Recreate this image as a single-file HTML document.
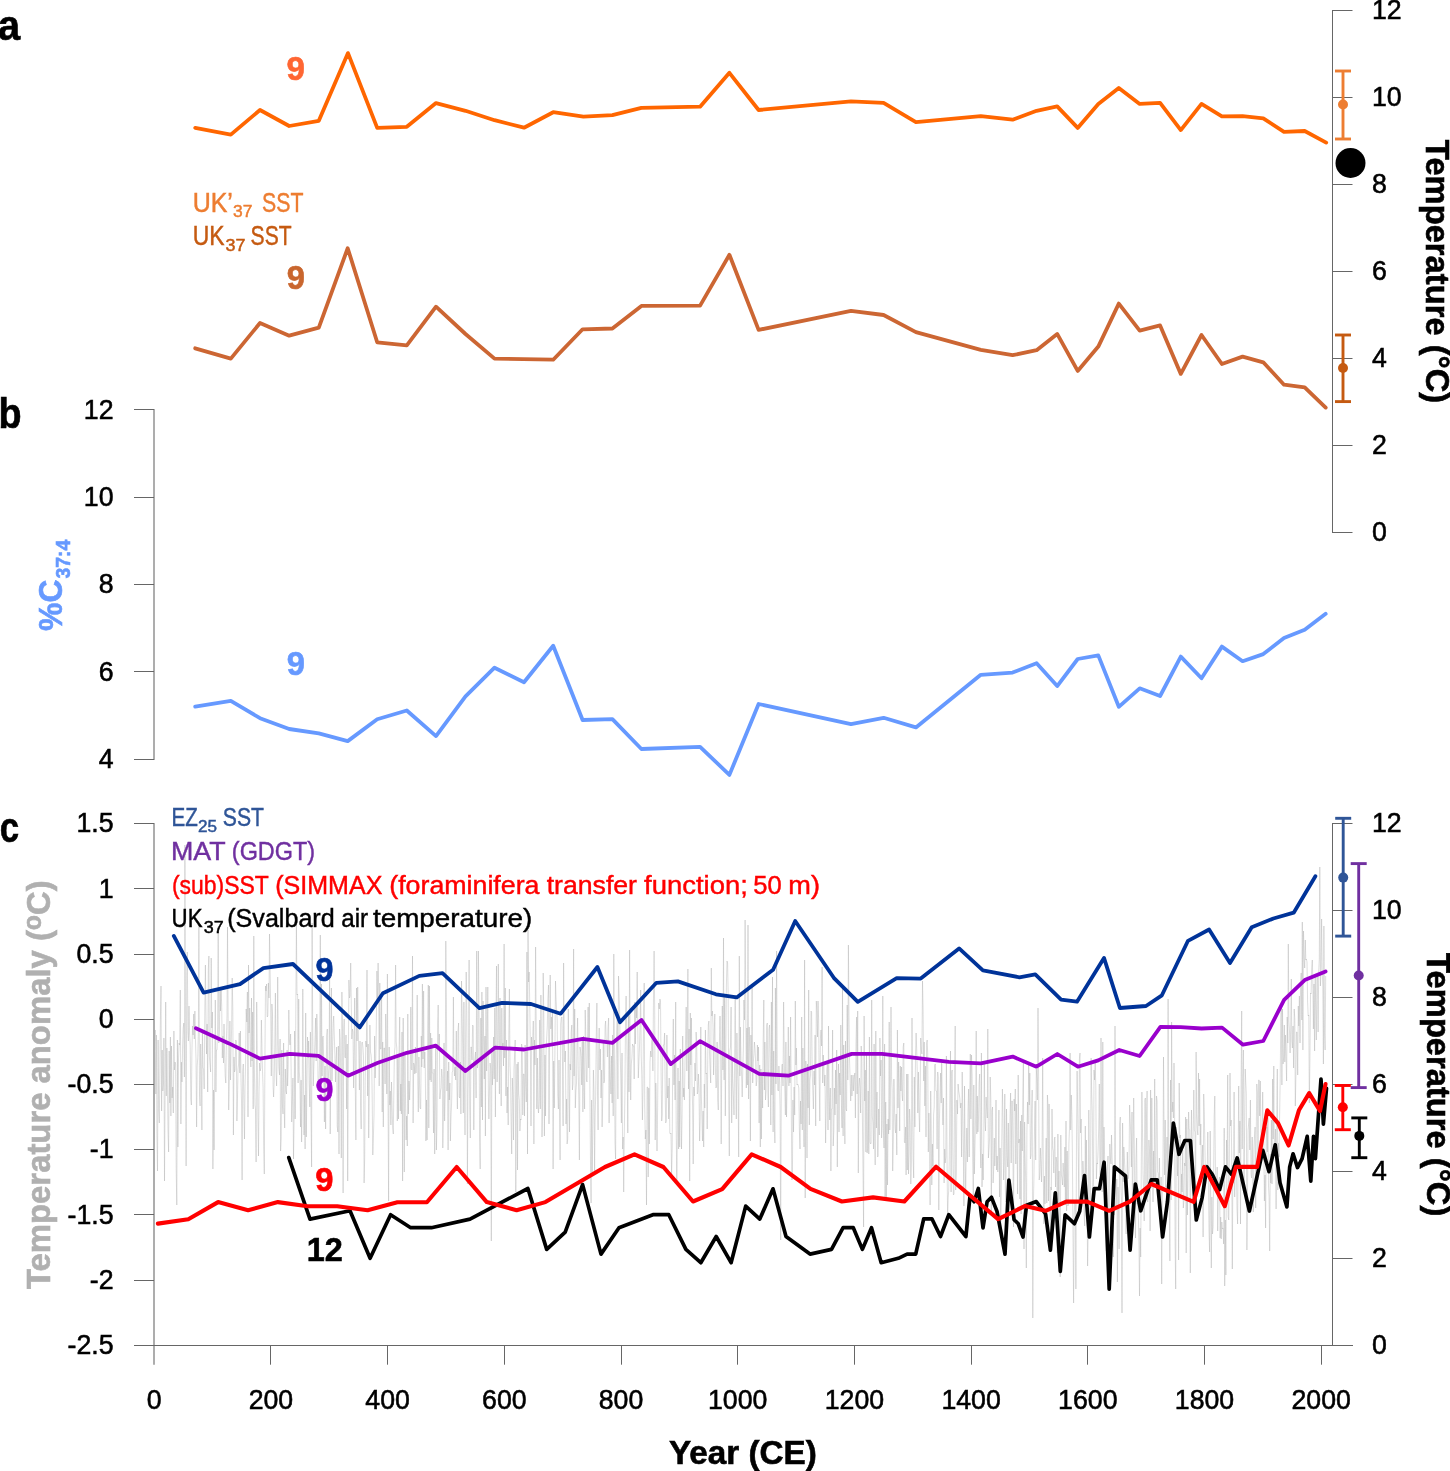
<!DOCTYPE html>
<html lang="en"><head><meta charset="utf-8"><title>Figure</title>
<style>
html,body{margin:0;padding:0;background:#fff;}
body{width:1450px;height:1471px;overflow:hidden;}
svg{display:block;}
text{font-family:"Liberation Sans",Arial,Helvetica,sans-serif;}
.b{font-weight:bold;}
.ln{fill:none;stroke-linejoin:round;stroke-linecap:round;}
</style></head><body>
<svg width="1450" height="1471" viewBox="0 0 1450 1471">
<rect width="1450" height="1471" fill="#fff"/>

<path d="M154.6,1050 L155.2,1030 L155.8,1094 L156.4,1035 L156.9,1133 L157.5,1171 L158.1,1040 L158.7,1110 L159.3,1123 L159.9,1067 L160.4,1019 L161.0,986 L161.6,1111 L162.2,1050 L162.8,1091 L163.4,1084 L163.9,1038 L164.5,1181 L165.1,1093 L165.7,1002 L166.3,1096 L166.9,1048 L167.4,1082 L168.0,1131 L168.6,1152 L169.2,1051 L169.8,1103 L170.4,1037 L170.9,1116 L171.5,1046 L172.1,1098 L172.7,1087 L173.3,1113 L173.9,1031 L174.4,1070 L175.0,1062 L175.6,1064 L176.2,1170 L176.8,1205 L177.4,1040 L177.9,1147 L178.5,1059 L179.1,1043 L179.7,1045 L180.3,990 L180.9,1124 L181.4,1062 L182.0,1082 L182.6,1047 L183.2,1028 L183.8,1023 L184.4,1077 L184.9,845 L185.5,1001 L186.1,1166 L186.7,977 L187.3,952 L187.9,1033 L188.4,1041 L189.0,1006 L189.6,1034 L190.2,1045 L190.8,1099 L191.4,1105 L191.9,1052 L192.5,1026 L193.1,1035 L193.7,1014 L194.3,1039 L194.9,1011 L195.4,1038 L196.0,1059 L196.6,1127 L197.2,1066 L197.8,1057 L198.4,1030 L198.9,924 L199.5,1095 L200.1,1106 L200.7,1044 L201.3,1069 L201.9,1130 L202.4,1030 L203.0,1068 L203.6,1069 L204.2,1089 L204.8,1013 L205.4,965 L205.9,1010 L206.5,1054 L207.1,1024 L207.7,1092 L208.3,970 L208.9,956 L209.4,1057 L210.0,1064 L210.6,1072 L211.2,958 L211.8,1028 L212.4,1012 L212.9,1169 L213.5,1090 L214.1,1150 L214.7,1072 L215.3,1000 L215.9,1092 L216.5,1050 L217.0,1050 L217.6,1026 L218.2,927 L218.8,1043 L219.4,1030 L220.0,988 L220.5,1011 L221.1,988 L221.7,1006 L222.3,1058 L222.9,1036 L223.5,1063 L224.0,1024 L224.6,1054 L225.2,1076 L225.8,1083 L226.4,1041 L227.0,1016 L227.5,927 L228.1,1013 L228.7,1110 L229.3,1080 L229.9,1021 L230.5,1080 L231.0,1052 L231.6,1029 L232.2,978 L232.8,1009 L233.4,1135 L234.0,1057 L234.5,1072 L235.1,1070 L235.7,1040 L236.3,1041 L236.9,1121 L237.5,1097 L238.0,1069 L238.6,1064 L239.2,1033 L239.8,1073 L240.4,1031 L241.0,1080 L241.5,1101 L242.1,1180 L242.7,1072 L243.3,1064 L243.9,1106 L244.5,1139 L245.0,1087 L245.6,1063 L246.2,1009 L246.8,1022 L247.4,992 L248.0,1117 L248.5,965 L249.1,1033 L249.7,1008 L250.3,1056 L250.9,1067 L251.5,998 L252.0,1061 L252.6,1012 L253.2,1109 L253.8,936 L254.4,1069 L255.0,1105 L255.5,1109 L256.1,1162 L256.7,1002 L257.3,1059 L257.9,1116 L258.5,1156 L259.0,1093 L259.6,1063 L260.2,1071 L260.8,1068 L261.4,1020 L262.0,1051 L262.5,1071 L263.1,1088 L263.7,1146 L264.3,1174 L264.9,1062 L265.5,986 L266.0,991 L266.6,984 L267.2,1017 L267.8,1016 L268.4,983 L269.0,998 L269.5,934 L270.1,969 L270.7,1009 L271.3,1076 L271.9,1004 L272.5,1014 L273.1,1087 L273.6,1097 L274.2,1082 L274.8,1045 L275.4,993 L276.0,1070 L276.6,1086 L277.1,1061 L277.7,977 L278.3,1044 L278.9,1068 L279.5,1075 L280.1,1039 L280.6,1151 L281.2,1138 L281.8,1050 L282.4,1104 L283.0,1114 L283.6,1043 L284.1,1105 L284.7,1128 L285.3,1069 L285.9,1091 L286.5,1094 L287.1,1050 L287.6,1086 L288.2,1066 L288.8,1010 L289.4,1040 L290.0,1045 L290.6,1034 L291.1,1068 L291.7,1122 L292.3,1103 L292.9,1078 L293.5,1159 L294.1,1119 L294.6,1031 L295.2,1119 L295.8,1013 L296.4,925 L297.0,995 L297.6,994 L298.1,1083 L298.7,999 L299.3,1072 L299.9,1081 L300.5,1127 L301.1,1080 L301.6,1142 L302.2,1103 L302.8,989 L303.4,1077 L304.0,1135 L304.6,1095 L305.1,1149 L305.7,1013 L306.3,1137 L306.9,1085 L307.5,1037 L308.1,1058 L308.6,1041 L309.2,1084 L309.8,1107 L310.4,1032 L311.0,1114 L311.6,1167 L312.1,923 L312.7,1025 L313.3,1086 L313.9,1065 L314.5,1053 L315.1,1037 L315.6,1018 L316.2,1061 L316.8,1014 L317.4,1033 L318.0,1077 L318.6,1089 L319.1,1082 L319.7,1055 L320.3,935 L320.9,1084 L321.5,984 L322.1,1076 L322.6,1037 L323.2,1036 L323.8,1069 L324.4,1122 L325.0,1066 L325.6,1129 L326.1,1082 L326.7,1036 L327.3,1029 L327.9,1101 L328.5,1074 L329.1,1065 L329.6,974 L330.2,1134 L330.8,1068 L331.4,988 L332.0,1081 L332.6,1049 L333.2,1023 L333.7,1016 L334.3,1037 L334.9,1055 L335.5,1082 L336.1,1060 L336.7,1047 L337.2,1126 L337.8,1132 L338.4,1046 L339.0,1154 L339.6,1029 L340.2,1040 L340.7,1072 L341.3,1158 L341.9,992 L342.5,1031 L343.1,1193 L343.7,1030 L344.2,1019 L344.8,1057 L345.4,1058 L346.0,1035 L346.6,1109 L347.2,1044 L347.7,1181 L348.3,1069 L348.9,980 L349.5,998 L350.1,996 L350.7,963 L351.2,997 L351.8,1039 L352.4,1029 L353.0,1032 L353.6,1088 L354.2,1051 L354.7,998 L355.3,1089 L355.9,1140 L356.5,988 L357.1,1041 L357.7,987 L358.2,1023 L358.8,1054 L359.4,1090 L360.0,1041 L360.6,1109 L361.2,1129 L361.7,1043 L362.3,1042 L362.9,1047 L363.5,1057 L364.1,1183 L364.7,1157 L365.2,1081 L365.8,1041 L366.4,1047 L367.0,970 L367.6,1096 L368.2,1044 L368.7,1138 L369.3,1095 L369.9,1025 L370.5,1052 L371.1,1055 L371.7,1063 L372.2,1098 L372.8,1155 L373.4,1136 L374.0,1115 L374.6,1036 L375.2,1078 L375.7,1064 L376.3,1027 L376.9,971 L377.5,1003 L378.1,963 L378.7,989 L379.2,1086 L379.8,983 L380.4,1049 L381.0,1049 L381.6,994 L382.2,1112 L382.7,1042 L383.3,1127 L383.9,1048 L384.5,1048 L385.1,1084 L385.7,1014 L386.2,1039 L386.8,1094 L387.4,974 L388.0,1095 L388.6,1201 L389.2,1047 L389.8,1105 L390.3,1091 L390.9,1125 L391.5,1082 L392.1,1107 L392.7,1128 L393.3,1134 L393.8,1095 L394.4,1053 L395.0,1047 L395.6,965 L396.2,1042 L396.8,1048 L397.3,1121 L397.9,1056 L398.5,1119 L399.1,1049 L399.7,1017 L400.3,1111 L400.8,1084 L401.4,1114 L402.0,1032 L402.6,1181 L403.2,1018 L403.8,1104 L404.3,1172 L404.9,1054 L405.5,1098 L406.1,1140 L406.7,1116 L407.3,1146 L407.8,1014 L408.4,1114 L409.0,1081 L409.6,1100 L410.2,1080 L410.8,1007 L411.3,1069 L411.9,1070 L412.5,956 L413.1,1123 L413.7,1063 L414.3,1065 L414.8,1074 L415.4,1047 L416.0,1073 L416.6,1060 L417.2,995 L417.8,1084 L418.3,1112 L418.9,1057 L419.5,1083 L420.1,1108 L420.7,1109 L421.3,1036 L421.8,1067 L422.4,984 L423.0,1059 L423.6,991 L424.2,1068 L424.8,1052 L425.3,1068 L425.9,1141 L426.5,1100 L427.1,1140 L427.7,1033 L428.3,985 L428.8,1128 L429.4,986 L430.0,1080 L430.6,1033 L431.2,1082 L431.8,1038 L432.3,1073 L432.9,1073 L433.5,1133 L434.1,1069 L434.7,1154 L435.3,1102 L435.8,1046 L436.4,1150 L437.0,1121 L437.6,1025 L438.2,1005 L438.8,1048 L439.3,1034 L439.9,1099 L440.5,1091 L441.1,1088 L441.7,1069 L442.3,1077 L442.8,1148 L443.4,1116 L444.0,1043 L444.6,1121 L445.2,1094 L445.8,941 L446.4,1005 L446.9,1091 L447.5,1071 L448.1,1150 L448.7,1062 L449.3,1100 L449.9,1083 L450.4,1141 L451.0,1116 L451.6,1103 L452.2,1072 L452.8,1071 L453.4,997 L453.9,1064 L454.5,1076 L455.1,1067 L455.7,1080 L456.3,1031 L456.9,1086 L457.4,1109 L458.0,1031 L458.6,1023 L459.2,1097 L459.8,1098 L460.4,1062 L460.9,1114 L461.5,981 L462.1,1012 L462.7,1048 L463.3,1113 L463.9,1002 L464.4,1085 L465.0,1135 L465.6,1037 L466.2,972 L466.8,1014 L467.4,1184 L467.9,1097 L468.5,1060 L469.1,960 L469.7,1107 L470.3,1138 L470.9,1047 L471.4,1047 L472.0,1060 L472.6,1025 L473.2,1026 L473.8,1130 L474.4,1063 L474.9,1058 L475.5,1052 L476.1,1098 L476.7,951 L477.3,1068 L477.9,1065 L478.4,951 L479.0,1006 L479.6,1138 L480.2,1169 L480.8,1018 L481.4,1107 L481.9,992 L482.5,1120 L483.1,1001 L483.7,1041 L484.3,1079 L484.9,1036 L485.4,1136 L486.0,987 L486.6,1071 L487.2,1047 L487.8,987 L488.4,1095 L488.9,1119 L489.5,1089 L490.1,1063 L490.7,1069 L491.3,1241 L491.9,1048 L492.4,1085 L493.0,1071 L493.6,1037 L494.2,1079 L494.8,1008 L495.4,1117 L495.9,1027 L496.5,966 L497.1,1082 L497.7,1055 L498.3,964 L498.9,1046 L499.4,1094 L500.0,998 L500.6,1058 L501.2,1106 L501.8,1008 L502.4,1050 L502.9,1043 L503.5,1066 L504.1,944 L504.7,1058 L505.3,988 L505.9,1096 L506.5,1040 L507.0,1113 L507.6,1087 L508.2,1125 L508.8,1035 L509.4,989 L510.0,1065 L510.5,1078 L511.1,1122 L511.7,1154 L512.3,1078 L512.9,1096 L513.5,1140 L514.0,1069 L514.6,1055 L515.2,1040 L515.8,1192 L516.4,1093 L517.0,1064 L517.5,1170 L518.1,1062 L518.7,1094 L519.3,1100 L519.9,1131 L520.5,1119 L521.0,1120 L521.6,1044 L522.2,1048 L522.8,1115 L523.4,1074 L524.0,1074 L524.5,1116 L525.1,1045 L525.7,1083 L526.3,1102 L526.9,952 L527.5,1154 L528.0,930 L528.6,982 L529.2,972 L529.8,1008 L530.4,1048 L531.0,1126 L531.5,1037 L532.1,1050 L532.7,1044 L533.3,1021 L533.9,1144 L534.5,1040 L535.0,1065 L535.6,947 L536.2,1024 L536.8,1109 L537.4,1058 L538.0,1107 L538.5,1113 L539.1,1099 L539.7,1020 L540.3,1109 L540.9,995 L541.5,1052 L542.0,1137 L542.6,1105 L543.2,973 L543.8,1017 L544.4,1136 L545.0,1055 L545.5,1116 L546.1,1050 L546.7,1038 L547.3,1026 L547.9,999 L548.5,985 L549.0,1124 L549.6,1032 L550.2,975 L550.8,1029 L551.4,1017 L552.0,1045 L552.5,1012 L553.1,1169 L553.7,1061 L554.3,1108 L554.9,1053 L555.5,981 L556.0,998 L556.6,1011 L557.2,1020 L557.8,1095 L558.4,1109 L559.0,1060 L559.5,1110 L560.1,1160 L560.7,1024 L561.3,1018 L561.9,1017 L562.5,1062 L563.1,1126 L563.6,963 L564.2,1034 L564.8,1062 L565.4,1051 L566.0,1124 L566.6,1099 L567.1,1144 L567.7,1139 L568.3,1009 L568.9,1070 L569.5,1132 L570.1,1064 L570.6,1070 L571.2,1032 L571.8,1025 L572.4,1090 L573.0,1084 L573.6,949 L574.1,1076 L574.7,1009 L575.3,1108 L575.9,1091 L576.5,1083 L577.1,1037 L577.6,1018 L578.2,1069 L578.8,1098 L579.4,1160 L580.0,1047 L580.6,1051 L581.1,1057 L581.7,1085 L582.3,1038 L582.9,1112 L583.5,1036 L584.1,1088 L584.6,1109 L585.2,1010 L585.8,1035 L586.4,1080 L587.0,1082 L587.6,1038 L588.1,1007 L588.7,1068 L589.3,1003 L589.9,1091 L590.5,1164 L591.1,1203 L591.6,1100 L592.2,1174 L592.8,1127 L593.4,1070 L594.0,1091 L594.6,1171 L595.1,1115 L595.7,1096 L596.3,1034 L596.9,1003 L597.5,1092 L598.1,1130 L598.6,1051 L599.2,1028 L599.8,1070 L600.4,1049 L601.0,1098 L601.6,1070 L602.1,1127 L602.7,1101 L603.3,1042 L603.9,1083 L604.5,1081 L605.1,1026 L605.6,1021 L606.2,1040 L606.8,1040 L607.4,1057 L608.0,1028 L608.6,1018 L609.1,1123 L609.7,1041 L610.3,1078 L610.9,1094 L611.5,1056 L612.1,1103 L612.6,1035 L613.2,1116 L613.8,954 L614.4,1053 L615.0,1143 L615.6,1159 L616.1,1067 L616.7,1032 L617.3,1016 L617.9,1099 L618.5,976 L619.1,995 L619.6,1010 L620.2,1052 L620.8,1080 L621.4,1123 L622.0,1053 L622.6,1149 L623.2,1137 L623.7,1192 L624.3,1132 L624.9,1095 L625.5,1023 L626.1,996 L626.7,1034 L627.2,1064 L627.8,1133 L628.4,1012 L629.0,1092 L629.6,950 L630.2,1057 L630.7,1100 L631.3,1064 L631.9,1058 L632.5,1044 L633.1,1046 L633.7,1046 L634.2,1079 L634.8,1002 L635.4,1044 L636.0,1005 L636.6,1018 L637.2,972 L637.7,1019 L638.3,1078 L638.9,1062 L639.5,1047 L640.1,1023 L640.7,990 L641.2,1055 L641.8,1075 L642.4,1120 L643.0,1090 L643.6,1013 L644.2,983 L644.7,1104 L645.3,1139 L645.9,1130 L646.5,1205 L647.1,1087 L647.7,1087 L648.2,1177 L648.8,1088 L649.4,1144 L650.0,1062 L650.6,1051 L651.2,1057 L651.7,1041 L652.3,1037 L652.9,1071 L653.5,997 L654.1,951 L654.7,1011 L655.2,1140 L655.8,1083 L656.4,1109 L657.0,1151 L657.6,1110 L658.2,1044 L658.7,1003 L659.3,1009 L659.9,999 L660.5,1001 L661.1,1072 L661.7,1121 L662.2,1115 L662.8,1052 L663.4,1045 L664.0,1045 L664.6,1033 L665.2,1092 L665.7,1123 L666.3,1121 L666.9,1035 L667.5,1098 L668.1,1086 L668.7,1119 L669.2,1078 L669.8,1133 L670.4,1134 L671.0,1133 L671.6,1175 L672.2,1148 L672.7,1059 L673.3,1019 L673.9,1085 L674.5,1055 L675.1,1100 L675.7,1002 L676.2,1128 L676.8,1183 L677.4,1130 L678.0,1068 L678.6,1149 L679.2,1081 L679.7,1147 L680.3,1049 L680.9,1109 L681.5,1149 L682.1,1113 L682.7,1036 L683.3,1097 L683.8,1088 L684.4,1100 L685.0,1061 L685.6,1039 L686.2,1007 L686.8,1071 L687.3,1042 L687.9,969 L688.5,1089 L689.1,1029 L689.7,1181 L690.3,1013 L690.8,1065 L691.4,1018 L692.0,1085 L692.6,1106 L693.2,1164 L693.8,1087 L694.3,1096 L694.9,1063 L695.5,1081 L696.1,1032 L696.7,1043 L697.3,1094 L697.8,1092 L698.4,1074 L699.0,1090 L699.6,1141 L700.2,1119 L700.8,1027 L701.3,1094 L701.9,1116 L702.5,1141 L703.1,1111 L703.7,1147 L704.3,1084 L704.8,1108 L705.4,1030 L706.0,1074 L706.6,1073 L707.2,1129 L707.8,1051 L708.3,1025 L708.9,1021 L709.5,1053 L710.1,1068 L710.7,1083 L711.3,968 L711.8,1016 L712.4,1011 L713.0,1025 L713.6,1075 L714.2,1037 L714.8,1014 L715.3,1064 L715.9,1088 L716.5,1087 L717.1,1042 L717.7,1099 L718.3,1110 L718.8,1054 L719.4,1044 L720.0,1016 L720.6,1048 L721.2,1144 L721.8,1052 L722.3,1006 L722.9,1070 L723.5,938 L724.1,1080 L724.7,997 L725.3,1116 L725.8,1055 L726.4,985 L727.0,961 L727.6,963 L728.2,996 L728.8,1109 L729.3,1156 L729.9,1051 L730.5,1047 L731.1,1007 L731.7,1123 L732.3,1058 L732.8,1082 L733.4,1096 L734.0,1115 L734.6,1066 L735.2,995 L735.8,1079 L736.3,1119 L736.9,1033 L737.5,1071 L738.1,1089 L738.7,1157 L739.3,956 L739.9,1076 L740.4,1027 L741.0,1061 L741.6,1075 L742.2,1097 L742.8,1069 L743.4,1047 L743.9,1000 L744.5,1020 L745.1,920 L745.7,989 L746.3,1088 L746.9,1028 L747.4,1085 L748.0,925 L748.6,1099 L749.2,1027 L749.8,1053 L750.4,1141 L750.9,1035 L751.5,1072 L752.1,986 L752.7,1083 L753.3,1062 L753.9,1054 L754.4,1042 L755.0,1049 L755.6,1061 L756.2,1086 L756.8,1081 L757.4,1045 L757.9,1061 L758.5,1047 L759.1,1123 L759.7,1065 L760.3,1147 L760.9,1069 L761.4,1139 L762.0,1074 L762.6,1108 L763.2,1041 L763.8,1000 L764.4,1090 L764.9,1042 L765.5,1100 L766.1,1091 L766.7,1025 L767.3,1023 L767.9,1093 L768.4,1107 L769.0,1029 L769.6,1025 L770.2,1059 L770.8,1125 L771.4,1002 L771.9,1095 L772.5,977 L773.1,1132 L773.7,1051 L774.3,1118 L774.9,1143 L775.4,988 L776.0,1084 L776.6,951 L777.2,1064 L777.8,1090 L778.4,1091 L778.9,1066 L779.5,1080 L780.1,1108 L780.7,1240 L781.3,1083 L781.9,1065 L782.4,1064 L783.0,1086 L783.6,1002 L784.2,1050 L784.8,1090 L785.4,1115 L785.9,1042 L786.5,1117 L787.1,1084 L787.7,1075 L788.3,1027 L788.9,1086 L789.4,1056 L790.0,1083 L790.6,1017 L791.2,1090 L791.8,1180 L792.4,1179 L792.9,1100 L793.5,1132 L794.1,1087 L794.7,1115 L795.3,1001 L795.9,1065 L796.4,1048 L797.0,1085 L797.6,1084 L798.2,1085 L798.8,1088 L799.4,1131 L800.0,1149 L800.5,1101 L801.1,1124 L801.7,1017 L802.3,1130 L802.9,1048 L803.5,1106 L804.0,1147 L804.6,960 L805.2,1198 L805.8,1061 L806.4,1070 L807.0,1158 L807.5,1064 L808.1,1108 L808.7,990 L809.3,1125 L809.9,1080 L810.5,1075 L811.0,1011 L811.6,1012 L812.2,1071 L812.8,1090 L813.4,1109 L814.0,1071 L814.5,1085 L815.1,1035 L815.7,1126 L816.3,1001 L816.9,1011 L817.5,1037 L818.0,1001 L818.6,1019 L819.2,1078 L819.8,1121 L820.4,1039 L821.0,1030 L821.5,1046 L822.1,967 L822.7,1083 L823.3,1055 L823.9,1067 L824.5,1086 L825.0,1075 L825.6,1143 L826.2,1108 L826.8,1070 L827.4,1064 L828.0,1130 L828.5,1026 L829.1,1092 L829.7,1120 L830.3,1088 L830.9,1171 L831.5,1109 L832.0,1109 L832.6,1030 L833.2,1146 L833.8,1131 L834.4,1088 L835.0,1115 L835.5,1070 L836.1,1104 L836.7,1050 L837.3,1167 L837.9,1087 L838.5,1064 L839.0,1132 L839.6,1073 L840.2,1095 L840.8,1025 L841.4,1103 L842.0,1128 L842.5,985 L843.1,1136 L843.7,1045 L844.3,1108 L844.9,1144 L845.5,1041 L846.0,1109 L846.6,1111 L847.2,1005 L847.8,1080 L848.4,945 L849.0,1019 L849.5,1059 L850.1,1079 L850.7,1101 L851.3,1075 L851.9,1096 L852.5,1087 L853.0,1075 L853.6,1091 L854.2,1078 L854.8,1073 L855.4,1118 L856.0,1043 L856.6,1017 L857.1,1094 L857.7,1011 L858.3,1173 L858.9,1087 L859.5,1078 L860.1,1089 L860.6,1113 L861.2,1046 L861.8,1059 L862.4,1116 L863.0,1171 L863.6,1227 L864.1,1016 L864.7,1101 L865.3,1070 L865.9,1152 L866.5,1055 L867.1,1153 L867.6,1149 L868.2,1091 L868.8,1154 L869.4,1037 L870.0,1142 L870.6,1144 L871.1,1143 L871.7,1000 L872.3,1116 L872.9,1123 L873.5,1149 L874.1,1044 L874.6,1133 L875.2,1165 L875.8,1031 L876.4,1128 L877.0,1092 L877.6,1157 L878.1,1156 L878.7,1109 L879.3,1135 L879.9,1038 L880.5,1076 L881.1,1060 L881.6,1138 L882.2,1124 L882.8,996 L883.4,1130 L884.0,1148 L884.6,1044 L885.1,1199 L885.7,1102 L886.3,1197 L886.9,1124 L887.5,1185 L888.1,1119 L888.6,1134 L889.2,1022 L889.8,1130 L890.4,1095 L891.0,1007 L891.6,1079 L892.1,1089 L892.7,1171 L893.3,1142 L893.9,1079 L894.5,1108 L895.1,1128 L895.6,1133 L896.2,1114 L896.8,1155 L897.4,1030 L898.0,1108 L898.6,1062 L899.1,1085 L899.7,1131 L900.3,1066 L900.9,1091 L901.5,1067 L902.1,1095 L902.6,1101 L903.2,1047 L903.8,1043 L904.4,1142 L905.0,1143 L905.6,1127 L906.1,1175 L906.7,1074 L907.3,1170 L907.9,1074 L908.5,1174 L909.1,1154 L909.6,1109 L910.2,1123 L910.8,1184 L911.4,1162 L912.0,1018 L912.6,1120 L913.1,1158 L913.7,1178 L914.3,1077 L914.9,1127 L915.5,1057 L916.1,1033 L916.7,1050 L917.2,1070 L917.8,1113 L918.4,1072 L919.0,1111 L919.6,1132 L920.2,1089 L920.7,1038 L921.3,1050 L921.9,1054 L922.5,981 L923.1,1010 L923.7,1081 L924.2,1042 L924.8,1106 L925.4,1066 L926.0,1137 L926.6,1043 L927.2,1040 L927.7,1054 L928.3,1152 L928.9,1113 L929.5,1141 L930.1,1205 L930.7,1091 L931.2,1125 L931.8,1185 L932.4,1144 L933.0,1166 L933.6,1115 L934.2,1107 L934.7,1065 L935.3,1064 L935.9,1091 L936.5,1091 L937.1,1149 L937.7,1072 L938.2,1077 L938.8,1210 L939.4,1121 L940.0,1096 L940.6,1073 L941.2,1103 L941.7,1063 L942.3,1102 L942.9,1125 L943.5,1098 L944.1,1183 L944.7,1149 L945.2,1163 L945.8,1157 L946.4,1056 L947.0,1156 L947.6,1218 L948.2,1197 L948.7,1191 L949.3,1157 L949.9,1090 L950.5,1051 L951.1,1192 L951.7,1072 L952.2,1070 L952.8,1152 L953.4,1195 L954.0,1194 L954.6,1083 L955.2,1026 L955.7,1190 L956.3,1173 L956.9,1100 L957.5,1114 L958.1,1084 L958.7,1091 L959.2,1094 L959.8,1098 L960.4,1108 L961.0,1103 L961.6,1157 L962.2,1072 L962.7,1110 L963.3,1147 L963.9,1206 L964.5,1086 L965.1,1150 L965.7,1190 L966.2,1159 L966.8,1128 L967.4,1162 L968.0,1110 L968.6,1089 L969.2,1157 L969.7,1098 L970.3,1054 L970.9,1119 L971.5,1055 L972.1,1075 L972.7,1158 L973.3,1195 L973.8,1085 L974.4,1174 L975.0,1144 L975.6,1117 L976.2,1031 L976.8,1134 L977.3,1096 L977.9,1132 L978.5,1118 L979.1,1083 L979.7,1074 L980.3,1146 L980.8,1168 L981.4,1053 L982.0,1187 L982.6,1154 L983.2,1180 L983.8,1139 L984.3,1062 L984.9,1118 L985.5,1131 L986.1,1097 L986.7,1108 L987.3,1118 L987.8,1029 L988.4,1158 L989.0,1149 L989.6,1138 L990.2,1077 L990.8,1098 L991.3,1215 L991.9,1111 L992.5,1107 L993.1,1183 L993.7,1168 L994.3,1138 L994.8,1166 L995.4,1152 L996.0,1100 L996.6,1170 L997.2,1156 L997.8,1172 L998.3,1158 L998.9,1110 L999.5,1197 L1000.1,1148 L1000.7,1235 L1001.3,1191 L1001.8,1140 L1002.4,1089 L1003.0,1119 L1003.6,1180 L1004.2,1163 L1004.8,1094 L1005.3,1189 L1005.9,1202 L1006.5,1109 L1007.1,1156 L1007.7,1167 L1008.3,1123 L1008.8,1210 L1009.4,1183 L1010.0,1117 L1010.6,1093 L1011.2,1163 L1011.8,1101 L1012.3,1101 L1012.9,1150 L1013.5,1227 L1014.1,1099 L1014.7,1111 L1015.3,1089 L1015.8,1164 L1016.4,1104 L1017.0,1145 L1017.6,1194 L1018.2,1075 L1018.8,1143 L1019.3,1139 L1019.9,1199 L1020.5,1121 L1021.1,1214 L1021.7,1115 L1022.3,1151 L1022.8,1096 L1023.4,1061 L1024.0,1249 L1024.6,1122 L1025.2,1160 L1025.8,1185 L1026.3,1268 L1026.9,1133 L1027.5,1102 L1028.1,1124 L1028.7,1064 L1029.3,1105 L1029.8,1073 L1030.4,1159 L1031.0,1155 L1031.6,1112 L1032.2,1090 L1032.8,1318 L1033.4,1203 L1033.9,1179 L1034.5,1130 L1035.1,1101 L1035.7,1160 L1036.3,1069 L1036.9,1079 L1037.4,1100 L1038.0,1008 L1038.6,1079 L1039.2,1180 L1039.8,1175 L1040.4,1148 L1040.9,1162 L1041.5,1182 L1042.1,1147 L1042.7,1058 L1043.3,1176 L1043.9,1224 L1044.4,1176 L1045.0,1204 L1045.6,1164 L1046.2,1138 L1046.8,1203 L1047.4,1095 L1047.9,1104 L1048.5,1201 L1049.1,1104 L1049.7,1187 L1050.3,1235 L1050.9,1187 L1051.4,1190 L1052.0,1109 L1052.6,1148 L1053.2,1151 L1053.8,1173 L1054.4,1139 L1054.9,1137 L1055.5,1187 L1056.1,1157 L1056.7,1162 L1057.3,1253 L1057.9,1134 L1058.4,1206 L1059.0,1171 L1059.6,1214 L1060.2,1277 L1060.8,1135 L1061.4,1175 L1061.9,1178 L1062.5,1185 L1063.1,1163 L1063.7,1174 L1064.3,1187 L1064.9,1147 L1065.4,1205 L1066.0,1121 L1066.6,1211 L1067.2,1151 L1067.8,1206 L1068.4,1205 L1068.9,1144 L1069.5,1128 L1070.1,1053 L1070.7,1130 L1071.3,1095 L1071.9,1116 L1072.4,1154 L1073.0,1236 L1073.6,1303 L1074.2,1214 L1074.8,1203 L1075.4,1205 L1075.9,1289 L1076.5,1138 L1077.1,1071 L1077.7,1110 L1078.3,1156 L1078.9,1202 L1079.4,1059 L1080.0,1053 L1080.6,1133 L1081.2,1119 L1081.8,1168 L1082.4,1200 L1082.9,1161 L1083.5,1175 L1084.1,1214 L1084.7,1226 L1085.3,1126 L1085.9,1199 L1086.4,1140 L1087.0,1193 L1087.6,1266 L1088.2,1230 L1088.8,1110 L1089.4,1165 L1090.0,1221 L1090.5,1193 L1091.1,1058 L1091.7,1093 L1092.3,1114 L1092.9,1193 L1093.5,1180 L1094.0,1070 L1094.6,1080 L1095.2,1063 L1095.8,1086 L1096.4,1179 L1097.0,1163 L1097.5,1164 L1098.1,1150 L1098.7,1129 L1099.3,1084 L1099.9,1175 L1100.5,1175 L1101.0,1038 L1101.6,1139 L1102.2,1192 L1102.8,1042 L1103.4,1181 L1104.0,1127 L1104.5,1152 L1105.1,1192 L1105.7,1228 L1106.3,1251 L1106.9,1179 L1107.5,1166 L1108.0,1156 L1108.6,1249 L1109.2,1205 L1109.8,1144 L1110.4,1159 L1111.0,1164 L1111.5,1135 L1112.1,1159 L1112.7,1171 L1113.3,1257 L1113.9,1169 L1114.5,1215 L1115.0,1026 L1115.6,1206 L1116.2,1208 L1116.8,1179 L1117.4,1282 L1118.0,1187 L1118.5,1204 L1119.1,1249 L1119.7,1124 L1120.3,1117 L1120.9,1185 L1121.5,1202 L1122.0,1313 L1122.6,1123 L1123.2,1182 L1123.8,1147 L1124.4,1158 L1125.0,1172 L1125.5,1192 L1126.1,1234 L1126.7,1200 L1127.3,1152 L1127.9,1179 L1128.5,1178 L1129.0,1168 L1129.6,1105 L1130.2,1120 L1130.8,1136 L1131.4,1167 L1132.0,1112 L1132.5,1227 L1133.1,1160 L1133.7,1098 L1134.3,1146 L1134.9,1212 L1135.5,1238 L1136.0,1158 L1136.6,1138 L1137.2,1204 L1137.8,1203 L1138.4,1216 L1139.0,1246 L1139.5,1296 L1140.1,1228 L1140.7,1257 L1141.3,1165 L1141.9,1092 L1142.5,1131 L1143.0,1173 L1143.6,1192 L1144.2,1221 L1144.8,1100 L1145.4,1098 L1146.0,1189 L1146.5,1116 L1147.1,1091 L1147.7,1202 L1148.3,1170 L1148.9,1140 L1149.5,1151 L1150.1,1231 L1150.6,1090 L1151.2,1188 L1151.8,1098 L1152.4,1154 L1153.0,1202 L1153.6,1151 L1154.1,1186 L1154.7,1079 L1155.3,1178 L1155.9,1182 L1156.5,1096 L1157.1,1101 L1157.6,1172 L1158.2,1173 L1158.8,1198 L1159.4,1158 L1160.0,1212 L1160.6,1214 L1161.1,1177 L1161.7,1284 L1162.3,1191 L1162.9,1187 L1163.5,1057 L1164.1,1136 L1164.6,1175 L1165.2,1120 L1165.8,1187 L1166.4,1155 L1167.0,1137 L1167.6,1184 L1168.1,999 L1168.7,1180 L1169.3,1209 L1169.9,1261 L1170.5,1080 L1171.1,1200 L1171.6,1022 L1172.2,1112 L1172.8,1102 L1173.4,1118 L1174.0,1063 L1174.6,1114 L1175.1,1243 L1175.7,1289 L1176.3,1127 L1176.9,1137 L1177.5,1176 L1178.1,1143 L1178.6,1260 L1179.2,1083 L1179.8,1138 L1180.4,1135 L1181.0,1194 L1181.6,1174 L1182.1,1192 L1182.7,1150 L1183.3,1208 L1183.9,1201 L1184.5,1163 L1185.1,1166 L1185.6,1117 L1186.2,1253 L1186.8,1119 L1187.4,1215 L1188.0,1174 L1188.6,1112 L1189.1,1129 L1189.7,1130 L1190.3,1273 L1190.9,1146 L1191.5,1110 L1192.1,1165 L1192.6,1150 L1193.2,1131 L1193.8,1090 L1194.4,1130 L1195.0,1132 L1195.6,1211 L1196.1,1052 L1196.7,1115 L1197.3,1130 L1197.9,1135 L1198.5,1073 L1199.1,1126 L1199.6,1079 L1200.2,1145 L1200.8,1124 L1201.4,1174 L1202.0,1160 L1202.6,1145 L1203.1,1237 L1203.7,1094 L1204.3,1114 L1204.9,1145 L1205.5,1181 L1206.1,1164 L1206.7,1172 L1207.2,1172 L1207.8,1132 L1208.4,1178 L1209.0,1231 L1209.6,1252 L1210.2,1131 L1210.7,1202 L1211.3,1268 L1211.9,1197 L1212.5,1234 L1213.1,1227 L1213.7,1169 L1214.2,1116 L1214.8,1096 L1215.4,1167 L1216.0,1182 L1216.6,1189 L1217.2,1167 L1217.7,1231 L1218.3,1196 L1218.9,1180 L1219.5,1177 L1220.1,1238 L1220.7,1217 L1221.2,1239 L1221.8,1222 L1222.4,1229 L1223.0,1228 L1223.6,1244 L1224.2,1128 L1224.7,1286 L1225.3,1220 L1225.9,1275 L1226.5,1140 L1227.1,1166 L1227.7,1075 L1228.2,1217 L1228.8,1220 L1229.4,1150 L1230.0,1073 L1230.6,1126 L1231.2,1120 L1231.7,1154 L1232.3,1269 L1232.9,1165 L1233.5,1183 L1234.1,1092 L1234.7,1197 L1235.2,1168 L1235.8,1167 L1236.4,1166 L1237.0,1209 L1237.6,1224 L1238.2,1160 L1238.7,1086 L1239.3,1153 L1239.9,1121 L1240.5,1224 L1241.1,1083 L1241.7,1011 L1242.2,1149 L1242.8,1077 L1243.4,1050 L1244.0,1184 L1244.6,1130 L1245.2,1069 L1245.7,1081 L1246.3,1094 L1246.9,1250 L1247.5,1192 L1248.1,1130 L1248.7,1123 L1249.2,1118 L1249.8,1150 L1250.4,1100 L1251.0,1174 L1251.6,1178 L1252.2,1137 L1252.7,1181 L1253.3,1212 L1253.9,1149 L1254.5,1136 L1255.1,1127 L1255.7,1208 L1256.2,1137 L1256.8,1084 L1257.4,1093 L1258.0,1180 L1258.6,1080 L1259.2,1080 L1259.7,1116 L1260.3,1081 L1260.9,1129 L1261.5,1151 L1262.1,1138 L1262.7,1092 L1263.2,1135 L1263.8,1141 L1264.4,1201 L1265.0,1175 L1265.6,1228 L1266.2,1142 L1266.8,1127 L1267.3,1152 L1267.9,1118 L1268.5,1186 L1269.1,1197 L1269.7,1251 L1270.3,1154 L1270.8,1183 L1271.4,1120 L1272.0,1184 L1272.6,1079 L1273.2,1139 L1273.8,1066 L1274.3,1151 L1274.9,1147 L1275.5,1129 L1276.1,1209 L1276.7,1125 L1277.3,1069 L1277.8,1190 L1278.4,1143 L1279.0,1157 L1279.6,1117 L1280.2,1079 L1280.8,1018 L1281.3,1007 L1281.9,1085 L1282.5,1009 L1283.1,1064 L1283.7,1057 L1284.3,1025 L1284.8,1062 L1285.4,1035 L1286.0,1056 L1286.6,1081 L1287.2,1017 L1287.8,1043 L1288.3,944 L1288.9,1021 L1289.5,1031 L1290.1,1053 L1290.7,1027 L1291.3,979 L1291.8,1041 L1292.4,1048 L1293.0,1026 L1293.6,1068 L1294.2,1009 L1294.8,1019 L1295.3,1106 L1295.9,1076 L1296.5,1032 L1297.1,1032 L1297.7,1075 L1298.3,1006 L1298.8,1026 L1299.4,996 L1300.0,1043 L1300.6,984 L1301.2,973 L1301.8,1020 L1302.3,922 L1302.9,1050 L1303.5,931 L1304.1,957 L1304.7,968 L1305.3,940 L1305.8,960 L1306.4,959 L1307.0,962 L1307.6,1002 L1308.2,1016 L1308.8,1015 L1309.3,1103 L1309.9,1061 L1310.5,993 L1311.1,994 L1311.7,968 L1312.3,960 L1312.8,980 L1313.4,1029 L1314.0,984 L1314.6,1051 L1315.2,974 L1315.8,1013 L1316.3,1040 L1316.9,977 L1317.5,975 L1318.1,1032 L1318.7,972 L1319.3,959 L1319.8,867 L1320.4,986 L1321.0,972 L1321.6,919 L1322.2,970 L1322.8,986 L1323.4,1064 L1323.9,926 L1324.5,1033 L1325.1,1050 L1325.7,976" fill="none" stroke="#acacac" stroke-width="0.4"/>
<line x1="1332.5" y1="10" x2="1332.5" y2="533" stroke="#666666" stroke-width="1"/><line x1="1332.5" y1="10.5" x2="1352.5" y2="10.5" stroke="#666666" stroke-width="1"/><text transform="translate(1372.00,19.30) scale(1.0000,1.0430)" font-size="26.7" fill="#000" stroke="#000" stroke-width="0.55">12</text><line x1="1332.5" y1="97.5" x2="1352.5" y2="97.5" stroke="#666666" stroke-width="1"/><text transform="translate(1372.00,106.32) scale(1.0000,1.0430)" font-size="26.7" fill="#000" stroke="#000" stroke-width="0.55">10</text><line x1="1332.5" y1="184.5" x2="1352.5" y2="184.5" stroke="#666666" stroke-width="1"/><text transform="translate(1372.00,193.34) scale(1.0000,1.0430)" font-size="26.7" fill="#000" stroke="#000" stroke-width="0.55">8</text><line x1="1332.5" y1="271.5" x2="1352.5" y2="271.5" stroke="#666666" stroke-width="1"/><text transform="translate(1372.00,280.36) scale(1.0000,1.0430)" font-size="26.7" fill="#000" stroke="#000" stroke-width="0.55">6</text><line x1="1332.5" y1="358.5" x2="1352.5" y2="358.5" stroke="#666666" stroke-width="1"/><text transform="translate(1372.00,367.38) scale(1.0000,1.0430)" font-size="26.7" fill="#000" stroke="#000" stroke-width="0.55">4</text><line x1="1332.5" y1="445.5" x2="1352.5" y2="445.5" stroke="#666666" stroke-width="1"/><text transform="translate(1372.00,454.40) scale(1.0000,1.0430)" font-size="26.7" fill="#000" stroke="#000" stroke-width="0.55">2</text><line x1="1332.5" y1="532.5" x2="1352.5" y2="532.5" stroke="#666666" stroke-width="1"/><text transform="translate(1372.00,541.42) scale(1.0000,1.0430)" font-size="26.7" fill="#000" stroke="#000" stroke-width="0.55">0</text>
<line x1="154" y1="409" x2="154" y2="760" stroke="#adadad" stroke-width="2.0"/><line x1="134" y1="409.5" x2="154" y2="409.5" stroke="#666666" stroke-width="1"/><text transform="translate(113.50,418.50) scale(1.0000,1.0430)" font-size="26.7" fill="#000" text-anchor="end" stroke="#000" stroke-width="0.55">12</text><line x1="134" y1="497.5" x2="154" y2="497.5" stroke="#666666" stroke-width="1"/><text transform="translate(113.50,505.85) scale(1.0000,1.0430)" font-size="26.7" fill="#000" text-anchor="end" stroke="#000" stroke-width="0.55">10</text><line x1="134" y1="584.5" x2="154" y2="584.5" stroke="#666666" stroke-width="1"/><text transform="translate(113.50,593.20) scale(1.0000,1.0430)" font-size="26.7" fill="#000" text-anchor="end" stroke="#000" stroke-width="0.55">8</text><line x1="134" y1="671.5" x2="154" y2="671.5" stroke="#666666" stroke-width="1"/><text transform="translate(113.50,680.55) scale(1.0000,1.0430)" font-size="26.7" fill="#000" text-anchor="end" stroke="#000" stroke-width="0.55">6</text><line x1="134" y1="759.5" x2="154" y2="759.5" stroke="#666666" stroke-width="1"/><text transform="translate(113.50,767.90) scale(1.0000,1.0430)" font-size="26.7" fill="#000" text-anchor="end" stroke="#000" stroke-width="0.55">4</text>
<line x1="154" y1="823" x2="154" y2="1364.7" stroke="#adadad" stroke-width="2.0"/><line x1="134" y1="823.5" x2="154" y2="823.5" stroke="#666666" stroke-width="1"/><text transform="translate(113.50,832.40) scale(1.0000,1.0430)" font-size="26.7" fill="#000" text-anchor="end" stroke="#000" stroke-width="0.55">1.5</text><line x1="134" y1="888.5" x2="154" y2="888.5" stroke="#666666" stroke-width="1"/><text transform="translate(113.50,897.60) scale(1.0000,1.0430)" font-size="26.7" fill="#000" text-anchor="end" stroke="#000" stroke-width="0.55">1</text><line x1="134" y1="954.5" x2="154" y2="954.5" stroke="#666666" stroke-width="1"/><text transform="translate(113.50,962.80) scale(1.0000,1.0430)" font-size="26.7" fill="#000" text-anchor="end" stroke="#000" stroke-width="0.55">0.5</text><line x1="134" y1="1019.5" x2="154" y2="1019.5" stroke="#666666" stroke-width="1"/><text transform="translate(113.50,1028.00) scale(1.0000,1.0430)" font-size="26.7" fill="#000" text-anchor="end" stroke="#000" stroke-width="0.55">0</text><line x1="134" y1="1084.5" x2="154" y2="1084.5" stroke="#666666" stroke-width="1"/><text transform="translate(113.50,1093.20) scale(1.0000,1.0430)" font-size="26.7" fill="#000" text-anchor="end" stroke="#000" stroke-width="0.55">-0.5</text><line x1="134" y1="1149.5" x2="154" y2="1149.5" stroke="#666666" stroke-width="1"/><text transform="translate(113.50,1158.40) scale(1.0000,1.0430)" font-size="26.7" fill="#000" text-anchor="end" stroke="#000" stroke-width="0.55">-1</text><line x1="134" y1="1214.5" x2="154" y2="1214.5" stroke="#666666" stroke-width="1"/><text transform="translate(113.50,1223.60) scale(1.0000,1.0430)" font-size="26.7" fill="#000" text-anchor="end" stroke="#000" stroke-width="0.55">-1.5</text><line x1="134" y1="1280.5" x2="154" y2="1280.5" stroke="#666666" stroke-width="1"/><text transform="translate(113.50,1288.80) scale(1.0000,1.0430)" font-size="26.7" fill="#000" text-anchor="end" stroke="#000" stroke-width="0.55">-2</text><line x1="134" y1="1345.5" x2="154" y2="1345.5" stroke="#666666" stroke-width="1"/><text transform="translate(113.50,1354.00) scale(1.0000,1.0430)" font-size="26.7" fill="#000" text-anchor="end" stroke="#000" stroke-width="0.55">-2.5</text>
<line x1="1332.5" y1="823" x2="1332.5" y2="1346" stroke="#666666" stroke-width="1"/><line x1="1332.5" y1="823.5" x2="1352.5" y2="823.5" stroke="#666666" stroke-width="1"/><text transform="translate(1372.00,832.40) scale(1.0000,1.0430)" font-size="26.7" fill="#000" stroke="#000" stroke-width="0.55">12</text><line x1="1332.5" y1="910.5" x2="1352.5" y2="910.5" stroke="#666666" stroke-width="1"/><text transform="translate(1372.00,919.37) scale(1.0000,1.0430)" font-size="26.7" fill="#000" stroke="#000" stroke-width="0.55">10</text><line x1="1332.5" y1="997.5" x2="1352.5" y2="997.5" stroke="#666666" stroke-width="1"/><text transform="translate(1372.00,1006.34) scale(1.0000,1.0430)" font-size="26.7" fill="#000" stroke="#000" stroke-width="0.55">8</text><line x1="1332.5" y1="1084.5" x2="1352.5" y2="1084.5" stroke="#666666" stroke-width="1"/><text transform="translate(1372.00,1093.31) scale(1.0000,1.0430)" font-size="26.7" fill="#000" stroke="#000" stroke-width="0.55">6</text><line x1="1332.5" y1="1171.5" x2="1352.5" y2="1171.5" stroke="#666666" stroke-width="1"/><text transform="translate(1372.00,1180.28) scale(1.0000,1.0430)" font-size="26.7" fill="#000" stroke="#000" stroke-width="0.55">4</text><line x1="1332.5" y1="1258.5" x2="1352.5" y2="1258.5" stroke="#666666" stroke-width="1"/><text transform="translate(1372.00,1267.25) scale(1.0000,1.0430)" font-size="26.7" fill="#000" stroke="#000" stroke-width="0.55">2</text><line x1="1332.5" y1="1345.5" x2="1352.5" y2="1345.5" stroke="#666666" stroke-width="1"/><text transform="translate(1372.00,1354.22) scale(1.0000,1.0430)" font-size="26.7" fill="#000" stroke="#000" stroke-width="0.55">0</text>
<line x1="134" y1="1345.5" x2="1353" y2="1345.5" stroke="#666666" stroke-width="1"/>
<text transform="translate(154.20,1408.90) scale(1.0000,1.0430)" font-size="26.7" fill="#000" text-anchor="middle" stroke="#000" stroke-width="0.55">0</text>
<line x1="270.5" y1="1345.5" x2="270.5" y2="1364.7" stroke="#666666" stroke-width="1"/>
<text transform="translate(270.90,1408.90) scale(1.0000,1.0430)" font-size="26.7" fill="#000" text-anchor="middle" stroke="#000" stroke-width="0.55">200</text>
<line x1="387.5" y1="1345.5" x2="387.5" y2="1364.7" stroke="#666666" stroke-width="1"/>
<text transform="translate(387.60,1408.90) scale(1.0000,1.0430)" font-size="26.7" fill="#000" text-anchor="middle" stroke="#000" stroke-width="0.55">400</text>
<line x1="504.5" y1="1345.5" x2="504.5" y2="1364.7" stroke="#666666" stroke-width="1"/>
<text transform="translate(504.30,1408.90) scale(1.0000,1.0430)" font-size="26.7" fill="#000" text-anchor="middle" stroke="#000" stroke-width="0.55">600</text>
<line x1="621.5" y1="1345.5" x2="621.5" y2="1364.7" stroke="#666666" stroke-width="1"/>
<text transform="translate(621.00,1408.90) scale(1.0000,1.0430)" font-size="26.7" fill="#000" text-anchor="middle" stroke="#000" stroke-width="0.55">800</text>
<line x1="737.5" y1="1345.5" x2="737.5" y2="1364.7" stroke="#666666" stroke-width="1"/>
<text transform="translate(737.70,1408.90) scale(1.0000,1.0430)" font-size="26.7" fill="#000" text-anchor="middle" stroke="#000" stroke-width="0.55">1000</text>
<line x1="854.5" y1="1345.5" x2="854.5" y2="1364.7" stroke="#666666" stroke-width="1"/>
<text transform="translate(854.40,1408.90) scale(1.0000,1.0430)" font-size="26.7" fill="#000" text-anchor="middle" stroke="#000" stroke-width="0.55">1200</text>
<line x1="971.5" y1="1345.5" x2="971.5" y2="1364.7" stroke="#666666" stroke-width="1"/>
<text transform="translate(971.10,1408.90) scale(1.0000,1.0430)" font-size="26.7" fill="#000" text-anchor="middle" stroke="#000" stroke-width="0.55">1400</text>
<line x1="1087.5" y1="1345.5" x2="1087.5" y2="1364.7" stroke="#666666" stroke-width="1"/>
<text transform="translate(1087.80,1408.90) scale(1.0000,1.0430)" font-size="26.7" fill="#000" text-anchor="middle" stroke="#000" stroke-width="0.55">1600</text>
<line x1="1204.5" y1="1345.5" x2="1204.5" y2="1364.7" stroke="#666666" stroke-width="1"/>
<text transform="translate(1204.50,1408.90) scale(1.0000,1.0430)" font-size="26.7" fill="#000" text-anchor="middle" stroke="#000" stroke-width="0.55">1800</text>
<line x1="1321.5" y1="1345.5" x2="1321.5" y2="1364.7" stroke="#666666" stroke-width="1"/>
<text transform="translate(1321.20,1408.90) scale(1.0000,1.0430)" font-size="26.7" fill="#000" text-anchor="middle" stroke="#000" stroke-width="0.55">2000</text>
<polyline class="ln" points="195.2,127.9 230.8,134.6 260.0,110.0 289.2,126.0 318.8,120.8 348.0,53.1 377.2,127.9 406.8,126.8 436.0,103.1 465.5,110.8 494.5,120.2 524.0,127.7 553.2,112.2 583.4,116.6 612.4,115.2 641.4,107.8 700.1,106.7 729.4,72.8 758.6,110.0 851.0,101.4 883.6,102.8 915.9,122.1 980.8,116.1 1012.6,119.7 1036.6,110.8 1057.2,106.4 1077.7,127.9 1098.3,103.9 1118.8,87.9 1139.7,103.9 1160.1,102.8 1180.8,130.1 1201.5,103.9 1221.9,116.3 1242.6,116.1 1263.3,118.3 1284.0,131.8 1304.7,131.0 1326.2,142.6" stroke="#FF6600" stroke-width="3.8"/>
<polyline class="ln" points="195.2,348.3 230.8,358.6 260.0,323.0 289.2,335.7 318.8,327.7 347.7,248.2 377.2,342.3 406.8,345.3 436.0,306.7 465.5,334.0 494.5,358.6 553.2,359.7 582.6,329.3 612.4,328.5 641.4,305.9 700.1,305.6 729.4,254.8 758.6,329.9 851.0,310.8 883.6,315.0 915.9,332.1 980.8,349.9 1012.6,355.2 1036.6,350.2 1057.2,333.9 1077.7,370.9 1098.3,346.6 1118.8,303.6 1139.7,330.6 1160.1,325.4 1180.8,373.9 1201.5,335.0 1221.9,364.0 1242.6,356.6 1263.3,362.3 1284.0,384.7 1304.7,387.4 1325.7,407.6" stroke="#CC6633" stroke-width="3.8"/>
<polyline class="ln" points="195.2,706.6 230.8,700.8 260.0,718.2 289.2,729.0 318.8,733.4 347.7,741.1 377.2,719.3 406.8,710.5 436.0,736.1 465.5,696.4 494.5,667.7 524.0,682.3 553.2,645.7 582.6,720.0 612.4,719.2 641.4,749.0 700.1,746.8 729.4,774.9 758.6,704.0 851.0,724.1 883.6,717.8 915.9,727.4 980.8,674.8 1012.6,672.6 1036.6,663.2 1057.2,686.1 1077.7,659.0 1098.3,655.4 1118.8,706.8 1139.7,688.3 1160.1,696.0 1180.8,656.6 1201.5,678.3 1221.9,646.6 1242.6,661.2 1263.3,654.1 1284.0,638.1 1304.7,629.8 1325.7,613.8" stroke="#6699FF" stroke-width="3.8"/>
<polyline class="ln" points="195.9,1028.3 229.0,1043.4 259.9,1058.6 289.7,1053.9 318.6,1055.9 348.1,1075.7 377.9,1062.8 406.9,1052.8 435.9,1045.7 465.4,1071.0 495.2,1047.6 524.1,1049.5 582.8,1038.8 612.3,1042.9 641.5,1020.0 670.8,1064.1 700.0,1041.2 759.3,1073.8 788.3,1075.7 851.7,1053.9 882.1,1053.9 949.0,1061.8 980.8,1063.3 1012.7,1056.6 1036.4,1066.7 1057.3,1054.0 1077.9,1066.7 1098.2,1060.4 1119.3,1050.0 1139.6,1056.0 1160.4,1026.8 1180.7,1027.1 1201.6,1028.5 1222.1,1027.6 1243.0,1044.7 1263.3,1041.0 1284.1,999.8 1304.7,980.1 1325.6,971.4" stroke="#9900CC" stroke-width="3.8"/>
<polyline class="ln" points="173.8,935.9 203.6,992.7 240.0,984.1 263.4,968.1 293.0,964.0 359.7,1027.4 382.9,993.2 419.3,975.9 442.5,973.1 479.4,1008.1 502.1,1002.9 531.0,1004.0 560.7,1013.7 597.4,967.0 620.0,1022.2 656.4,982.8 677.9,981.4 716.0,994.3 736.7,997.4 773.1,969.8 795.2,921.0 833.8,977.8 857.8,1001.8 896.7,978.1 920.7,978.6 959.1,948.4 982.9,970.4 1019.4,977.3 1035.3,974.4 1061.1,999.6 1077.0,1001.7 1104.0,957.9 1119.9,1008.0 1146.0,1006.0 1161.9,995.3 1188.0,940.8 1209.1,929.5 1230.0,963.1 1251.7,927.2 1273.4,918.5 1293.7,912.7 1315.4,876.2" stroke="#003399" stroke-width="3.8"/>
<polyline class="ln" points="288.8,1157.6 310.0,1219.1 350.0,1210.8 370.1,1258.3 390.6,1214.7 410.7,1227.7 431.4,1227.7 470.0,1219.1 527.9,1188.5 546.7,1249.4 565.2,1232.1 582.6,1184.6 601.0,1254.1 619.0,1227.7 652.9,1214.7 668.8,1214.7 685.9,1249.4 700.8,1262.7 716.2,1236.5 731.1,1262.7 745.7,1206.1 759.8,1219.1 773.0,1188.8 786.0,1236.5 810.0,1254.1 831.5,1249.4 843.1,1227.7 853.3,1227.7 862.4,1249.4 871.5,1227.7 881.2,1262.7 898.3,1258.3 907.1,1254.1 915.7,1254.1 923.7,1218.8 931.9,1218.8 940.5,1236.5 948.8,1214.7 965.9,1236.5 970.0,1196.2 974.1,1201.7 978.3,1188.5 983.0,1227.9 987.1,1201.7 991.5,1197.3 997.0,1211.4 1005.0,1254.1 1008.9,1180.2 1014.1,1219.7 1018.3,1223.8 1023.0,1237.0 1026.5,1205.2 1036.3,1201.6 1045.6,1214.0 1050.4,1250.2 1055.3,1192.8 1060.3,1271.4 1065.1,1214.9 1074.4,1223.7 1079.7,1211.3 1084.5,1175.5 1089.4,1237.0 1094.2,1188.7 1099.5,1188.7 1104.1,1162.2 1109.2,1289.1 1114.5,1166.8 1125.5,1176.0 1130.1,1250.2 1135.4,1184.0 1140.7,1210.8 1151.3,1179.9 1157.3,1179.9 1162.6,1237.0 1167.5,1201.6 1173.4,1123.0 1179.0,1154.3 1184.8,1140.5 1190.4,1140.5 1196.3,1220.0 1202.1,1197.9 1206.9,1166.9 1212.4,1174.5 1219.6,1189.7 1225.5,1166.9 1231.7,1174.5 1237.2,1157.9 1249.4,1211.0 1262.8,1150.3 1269.0,1171.7 1275.2,1144.8 1280.0,1182.8 1286.9,1206.9 1289.7,1166.9 1293.1,1153.8 1297.5,1167.6 1302.1,1158.6 1307.2,1136.3 1310.8,1181.1 1313.5,1136.3 1315.4,1158.6 1321.0,1079.0 1323.4,1124.1 1326.5,1088.3" stroke="#000" stroke-width="3.7"/>
<polyline class="ln" points="157.9,1223.6 188.3,1219.2 218.1,1202.1 248.1,1210.3 277.9,1202.1 307.7,1206.2 337.2,1206.2 367.6,1210.3 397.4,1202.3 426.9,1202.3 456.7,1167.0 486.8,1202.1 516.6,1210.3 545.4,1202.1 605.0,1167.0 634.5,1154.3 663.4,1167.0 693.0,1201.5 722.2,1189.1 751.7,1154.3 780.7,1167.0 810.5,1188.8 841.9,1201.5 873.1,1197.4 904.3,1201.5 936.1,1166.7 998.1,1219.1 1025.2,1205.9 1045.6,1210.8 1066.3,1201.6 1087.1,1201.6 1109.2,1210.8 1129.9,1201.6 1151.3,1184.0 1193.6,1201.9 1204.2,1166.9 1224.8,1206.2 1235.9,1166.9 1257.2,1166.9 1267.3,1110.3 1278.2,1123.4 1288.6,1145.5 1298.9,1110.3 1309.2,1093.1 1320.0,1111.0 1325.5,1084.1" stroke="#FF0000" stroke-width="4.1"/>
<g stroke="#ED7D31" stroke-width="2.9" fill="#ED7D31"><line x1="1343" y1="71" x2="1343" y2="139"/><line x1="1335" y1="71" x2="1351" y2="71"/><line x1="1335" y1="139" x2="1351" y2="139"/><circle cx="1343" cy="104.5" r="5.0" stroke="none"/></g>
<g stroke="#C55A11" stroke-width="2.9" fill="#C55A11"><line x1="1343" y1="335" x2="1343" y2="401.6"/><line x1="1335" y1="335" x2="1351" y2="335"/><line x1="1335" y1="401.6" x2="1351" y2="401.6"/><circle cx="1343" cy="368" r="5.0" stroke="none"/></g>
<circle cx="1350.5" cy="163" r="15" fill="#000"/>
<g stroke="#2F5597" stroke-width="2.9" fill="#2F5597"><line x1="1343.2" y1="818.3" x2="1343.2" y2="936.1"/><line x1="1335.2" y1="818.3" x2="1351.2" y2="818.3"/><line x1="1335.2" y1="936.1" x2="1351.2" y2="936.1"/><circle cx="1343.2" cy="877.6" r="5.0" stroke="none"/></g>
<g stroke="#7030A0" stroke-width="2.9" fill="#7030A0"><line x1="1358.7" y1="863.6" x2="1358.7" y2="1087.6"/><line x1="1350.7" y1="863.6" x2="1366.7" y2="863.6"/><line x1="1350.7" y1="1087.6" x2="1366.7" y2="1087.6"/><circle cx="1358.7" cy="975.5" r="5.0" stroke="none"/></g>
<g stroke="#FF0000" stroke-width="2.9" fill="#FF0000"><line x1="1342.8" y1="1085.5" x2="1342.8" y2="1129.7"/><line x1="1334.8" y1="1085.5" x2="1350.8" y2="1085.5"/><line x1="1334.8" y1="1129.7" x2="1350.8" y2="1129.7"/><circle cx="1342.8" cy="1107.3" r="5.0" stroke="none"/></g>
<g stroke="#000" stroke-width="2.9" fill="#000"><line x1="1359.3" y1="1117.9" x2="1359.3" y2="1157.7"/><line x1="1351.3" y1="1117.9" x2="1367.3" y2="1117.9"/><line x1="1351.3" y1="1157.7" x2="1367.3" y2="1157.7"/><circle cx="1359.3" cy="1135.9" r="5.0" stroke="none"/></g>
<text class="b" transform="translate(286.55,79.80)" font-size="33.1" fill="#FF6633" stroke="#FF6633" stroke-width="0.6">9</text>
<text class="b" transform="translate(286.67,289.20) scale(0.9875,1.0000)" font-size="33.1" fill="#C9662E" stroke="#C9662E" stroke-width="0.6">9</text>
<text class="b" transform="translate(286.67,674.90) scale(0.9875,1.0000)" font-size="33.1" fill="#6699FF" stroke="#6699FF" stroke-width="0.6">9</text>
<text class="b" transform="translate(315.48,980.80) scale(0.9750,1.0000)" font-size="33.1" fill="#003399" stroke="#003399" stroke-width="0.6">9</text>
<text class="b" transform="translate(315.48,1101.30) scale(0.9750,1.0000)" font-size="33.1" fill="#9900CC" stroke="#9900CC" stroke-width="0.6">9</text>
<text class="b" transform="translate(315.37,1190.60) scale(0.9875,1.0000)" font-size="33.1" fill="#FF0000" stroke="#FF0000" stroke-width="0.6">9</text>
<text class="b" transform="translate(306.84,1261.20) scale(0.9791,1.0000)" font-size="33.1" fill="#000" stroke="#000" stroke-width="0.6">12</text>
<text class="b" transform="translate(-2.02,39.60) scale(0.9500,1.0000)" font-size="42" fill="#000" stroke="#000" stroke-width="0.6">a</text>
<text class="b" transform="translate(-1.50,427.60) scale(0.9000,1.0000)" font-size="42" fill="#000" stroke="#000" stroke-width="0.6">b</text>
<text class="b" transform="translate(-0.25,841.50) scale(0.8296,1.0000)" font-size="42" fill="#000" stroke="#000" stroke-width="0.6">c</text>
<text transform="translate(192.65,211.50) scale(0.9258,1.0000)" font-size="27.0" fill="#ED7D31" stroke="#ED7D31" stroke-width="0.45">UK’</text>
<text transform="translate(233.11,217.30) scale(1.0567,1.0000)" font-size="16.5" fill="#ED7D31" stroke="#ED7D31" stroke-width="0.45">37</text>
<text transform="translate(262.11,211.50) scale(0.7881,1.0000)" font-size="27.0" fill="#ED7D31" stroke="#ED7D31" stroke-width="0.45">SST</text>
<text transform="translate(192.80,245.40) scale(0.8486,1.0000)" font-size="27.0" fill="#C55A11" stroke="#C55A11" stroke-width="0.45">UK</text>
<text transform="translate(225.49,251.30) scale(1.0866,1.0000)" font-size="16.5" fill="#C55A11" stroke="#C55A11" stroke-width="0.45">37</text>
<text transform="translate(250.62,245.40) scale(0.7802,1.0000)" font-size="27.0" fill="#C55A11" stroke="#C55A11" stroke-width="0.45">SST</text>
<text transform="translate(171.51,826.10) scale(0.7934,1.0000)" font-size="26.0" fill="#2F5597" stroke="#2F5597" stroke-width="0.45">EZ</text>
<text transform="translate(198.10,831.80) scale(1.0708,1.0000)" font-size="16.0" fill="#2F5597" stroke="#2F5597" stroke-width="0.45">25</text>
<text transform="translate(222.78,826.10) scale(0.8144,1.0000)" font-size="26.0" fill="#2F5597" stroke="#2F5597" stroke-width="0.45">SST</text>
<text transform="translate(170.98,859.90) scale(1.0320,1.0000)" font-size="26.0" fill="#7030A0" stroke="#7030A0" stroke-width="0.45">MAT</text>
<text transform="translate(231.85,859.90) scale(0.8997,1.0000)" font-size="26.0" fill="#7030A0" stroke="#7030A0" stroke-width="0.45">(GDGT)</text>
<text transform="translate(171.98,893.90) scale(0.8826,1.0000)" font-size="26.0" fill="#FF0000" stroke="#FF0000" stroke-width="0.45">(sub)SST</text>
<text transform="translate(275.25,893.90) scale(0.9642,1.0000)" font-size="26.0" fill="#FF0000" stroke="#FF0000" stroke-width="0.45">(SIMMAX</text>
<text transform="translate(389.25,893.90) scale(1.0304,1.0000)" font-size="26.0" fill="#FF0000" stroke="#FF0000" stroke-width="0.45">(foraminifera</text>
<text transform="translate(546.69,893.90) scale(1.0246,1.0000)" font-size="26.0" fill="#FF0000" stroke="#FF0000" stroke-width="0.45">transfer</text>
<text transform="translate(644.04,893.90) scale(1.0569,1.0000)" font-size="26.0" fill="#FF0000" stroke="#FF0000" stroke-width="0.45">function;</text>
<text transform="translate(753.32,893.90) scale(0.9832,1.0000)" font-size="26.0" fill="#FF0000" stroke="#FF0000" stroke-width="0.45">50</text>
<text transform="translate(788.37,893.90) scale(1.0444,1.0000)" font-size="26.0" fill="#FF0000" stroke="#FF0000" stroke-width="0.45">m)</text>
<text transform="translate(171.59,927.40) scale(0.8563,1.0000)" font-size="26.0" fill="#000" stroke="#000" stroke-width="0.45">UK</text>
<text transform="translate(203.86,933.20) scale(1.1200,1.0000)" font-size="16.0" fill="#000" stroke="#000" stroke-width="0.45">37</text>
<text transform="translate(227.25,927.40) scale(0.9657,1.0000)" font-size="26.0" fill="#000" stroke="#000" stroke-width="0.45">(Svalbard</text>
<text transform="translate(341.17,927.40) scale(0.9309,1.0000)" font-size="26.0" fill="#000" stroke="#000" stroke-width="0.45">air</text>
<text transform="translate(372.96,927.40) scale(1.0705,1.0000)" font-size="26.0" fill="#000" stroke="#000" stroke-width="0.45">temperature)</text>
<text class="b" transform="translate(1426.40,139.85) rotate(90) scale(0.9855,1.0000)" font-size="33.2" fill="#000" stroke="#000" stroke-width="0.6">Temperature (°C)</text>
<text class="b" transform="translate(1426.50,953.05) rotate(90) scale(0.9855,1.0000)" font-size="33.2" fill="#000" stroke="#000" stroke-width="0.6">Temperature (°C)</text>
<text class="b" transform="translate(50.10,1289.05) rotate(-90) scale(0.9893,1.0000)" font-size="33.2" fill="#b0b0b0" stroke="#b0b0b0" stroke-width="0.6">Temperature anomaly (<tspan font-size="25" dy="-9.1">o</tspan><tspan dy="9.1">C)</tspan></text>
<text class="b" transform="translate(62.30,630.92) rotate(-90) scale(0.9650,1.0000)" font-size="33" fill="#6699FF" stroke="#6699FF" stroke-width="0.6">%C</text>
<text class="b" transform="translate(70.10,578.38) rotate(-90) scale(0.9671,1.0000)" font-size="20" fill="#6699FF" stroke="#6699FF" stroke-width="0.6">37:4</text>
<text class="b" transform="translate(668.95,1464.30) scale(1.0017,1.0000)" font-size="33.2" fill="#000" stroke="#000" stroke-width="0.6">Year (CE)</text>
</svg></body></html>
